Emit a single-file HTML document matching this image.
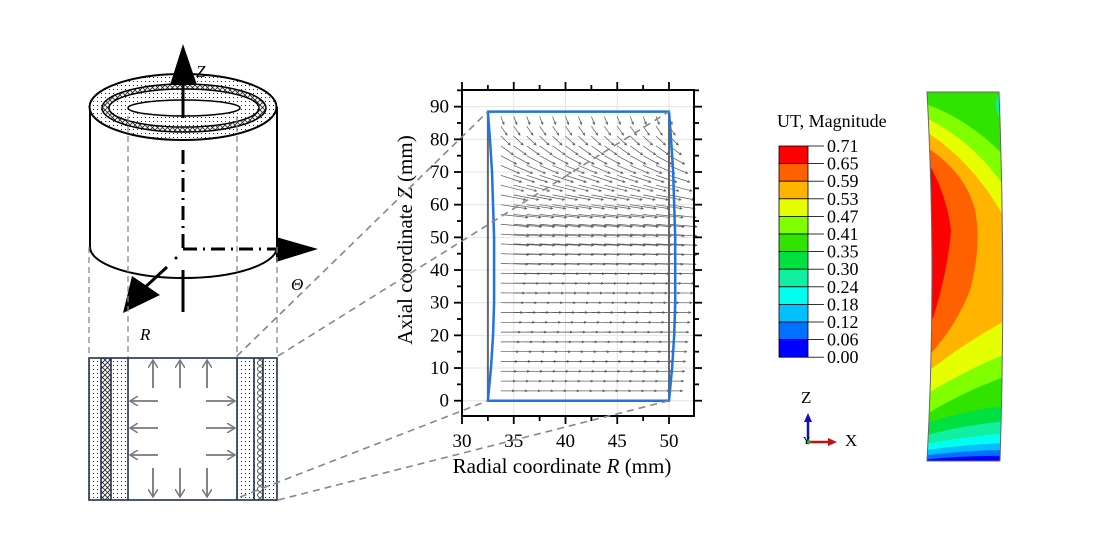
<!DOCTYPE html>
<html><head><meta charset="utf-8"><style>
html,body{margin:0;padding:0;background:#fff;}
svg{display:block;font-family:"Liberation Serif",serif;}
</style></head><body>
<svg id="fig" width="1100" height="560" viewBox="0 0 1100 560">
<defs>
<pattern id="dots" width="4" height="4" patternUnits="userSpaceOnUse"><rect width="4" height="4" fill="#fff"/><rect x="1" y="1" width="1" height="1" fill="#222"/></pattern>
<pattern id="hatch" width="5" height="5" patternUnits="userSpaceOnUse"><rect width="5" height="5" fill="#fff"/><path d="M0 0L5 5M5 0L0 5" stroke="#222" stroke-width="0.8"/></pattern>
<pattern id="circ" width="8" height="6" patternUnits="userSpaceOnUse"><rect width="8" height="6" fill="#fff"/><circle cx="4" cy="3" r="2.4" fill="none" stroke="#222" stroke-width="0.8"/></pattern>
<marker id="ah" markerWidth="10" markerHeight="10" refX="8" refY="5" orient="auto" markerUnits="userSpaceOnUse"><path d="M0 0L8 5L0 10" fill="none" stroke="#777" stroke-width="1.5"/></marker>
<clipPath id="bodyclip"><path d="M927 92 L999 92 Q1006 276 1000 461 L927 461 Q937 276 927 92Z"/></clipPath>
</defs>

<g>
<path d="M90 107 L90 247 A93.5 31 0 0 0 277 247 L277 107" fill="#fff" stroke="#000" stroke-width="2"/>
<ellipse cx="183" cy="107" rx="93.5" ry="33" fill="url(#dots)" stroke="#000" stroke-width="2"/>
<ellipse cx="184" cy="108" rx="82" ry="24" fill="url(#hatch)" stroke="#000" stroke-width="1.5"/>
<ellipse cx="184" cy="108" rx="75" ry="19" fill="url(#dots)" stroke="#000" stroke-width="1.5"/>
<ellipse cx="184" cy="108" rx="56" ry="8" fill="#fff" stroke="#000" stroke-width="1.5"/>
<line x1="183" y1="118" x2="183" y2="80" stroke="#000" stroke-width="3"/>
<polygon points="183,44 170,85 197,85" fill="#000"/>
<text x="196" y="77" font-size="17" font-style="italic">Z</text>
<line x1="183" y1="150" x2="183" y2="249" stroke="#000" stroke-width="3" stroke-dasharray="14,6,2,6"/>
<line x1="183" y1="249" x2="278" y2="249" stroke="#000" stroke-width="3" stroke-dasharray="14,6,2,6"/>
<polygon points="276,237 276,262 318,249" fill="#000"/>
<text x="291" y="290" font-size="17" font-style="italic">Θ</text>
<line x1="167" y1="267" x2="140" y2="292" stroke="#000" stroke-width="3"/>
<polygon points="123,313 132,276 160,295" fill="#000"/>
<circle cx="176" cy="258" r="1.5" fill="#000"/>
<line x1="183" y1="270" x2="183" y2="312" stroke="#000" stroke-width="3"/>
<text x="140" y="340" font-size="17" font-style="italic">R</text>
<g stroke="#888" stroke-width="1.3" stroke-dasharray="6,4" fill="none">
<line x1="89" y1="247" x2="89" y2="357"/><line x1="128" y1="116" x2="128" y2="357"/><line x1="237" y1="116" x2="237" y2="357"/><line x1="277" y1="247" x2="277" y2="357"/>
</g>
</g>

<g>
<rect x="89" y="358" width="12" height="142" fill="url(#dots)"/>
<rect x="101" y="358" width="10" height="142" fill="url(#hatch)"/>
<rect x="111" y="358" width="17" height="142" fill="url(#dots)"/>
<rect x="237" y="358" width="17" height="142" fill="url(#dots)"/>
<rect x="254" y="358" width="9" height="142" fill="url(#circ)"/>
<rect x="263" y="358" width="14" height="142" fill="url(#dots)"/>
<g stroke="#1f3050" stroke-width="1.6" fill="none">
<rect x="89" y="358" width="188" height="142"/>
<line x1="101" y1="358" x2="101" y2="500"/><line x1="111" y1="358" x2="111" y2="500"/><line x1="128" y1="358" x2="128" y2="500"/>
<line x1="237" y1="358" x2="237" y2="500"/><line x1="254" y1="358" x2="254" y2="500"/><line x1="263" y1="358" x2="263" y2="500"/>
</g>
<g stroke="#777" stroke-width="1.8" marker-end="url(#ah)">
<line x1="153" y1="388" x2="153" y2="360"/><line x1="180" y1="388" x2="180" y2="360"/><line x1="207" y1="388" x2="207" y2="360"/>
<line x1="153" y1="468" x2="153" y2="497"/><line x1="180" y1="468" x2="180" y2="497"/><line x1="207" y1="468" x2="207" y2="497"/>
<line x1="158" y1="401" x2="130" y2="401"/><line x1="158" y1="428" x2="130" y2="428"/><line x1="158" y1="455" x2="130" y2="455"/>
<line x1="206" y1="401" x2="235" y2="401"/><line x1="206" y1="428" x2="235" y2="428"/><line x1="206" y1="455" x2="235" y2="455"/>
</g>
</g>

<g id="chart"></g>

<g id="legend">
<text x="777" y="127" font-size="18">UT, Magnitude</text>
</g>

<g>
<text x="801" y="403" font-size="17">Z</text>
<line x1="808" y1="442" x2="808" y2="420" stroke="#1010c0" stroke-width="2.5"/>
<polygon points="808,413 804,422 812,422" fill="#1010c0"/>
<line x1="808" y1="442" x2="830" y2="442" stroke="#c01010" stroke-width="2.5"/>
<polygon points="837,442 828,438 828,446" fill="#c01010"/>
<circle cx="808" cy="442" r="2.5" fill="#20b040"/>
<text x="803" y="444" font-size="10">Y</text>
<text x="845" y="446" font-size="17">X</text>
</g>

<g clip-path="url(#bodyclip)">
<rect x="920" y="88" width="90" height="380" fill="#30e400"/>
<ellipse cx="1001" cy="105" rx="5" ry="12" fill="#10f090"/>
<path d="M920 102 Q970 118 1010 162 L1010 375 Q965 390 920 418Z" fill="#80ff00"/>
<path d="M920 115 Q975 140 1010 195 L1010 352 Q965 370 920 398Z" fill="#e6ff00"/>
<path d="M920 128 Q975 160 1010 228 L1010 318 Q960 345 920 378Z" fill="#ffb400"/>
<path d="M920 143 Q965 170 975 210 Q982 245 970 290 Q955 330 920 365Z" fill="#ff6000"/>
<path d="M920 150 Q945 185 951 230 Q948 270 933 318 L920 330Z" fill="#ff0000"/>
<path d="M920 425 Q965 410 1010 405 L1010 470 L920 470Z" fill="#00e040"/>
<path d="M920 437 Q965 424 1010 421 L1010 470 L920 470Z" fill="#10f0a0"/>
<path d="M920 445 Q965 436 1010 433 L1010 470 L920 470Z" fill="#00ffee"/>
<path d="M920 451 Q965 444 1010 443 L1010 470 L920 470Z" fill="#00c0ff"/>
<path d="M920 456 Q965 450 1010 450 L1010 470 L920 470Z" fill="#0070ff"/>
<path d="M920 460 Q965 455 1010 456 L1010 470 L920 470Z" fill="#0000ff"/>
</g>
<path d="M927 92 L999 92 Q1006 276 1000 461 L927 461 Q937 276 927 92Z" fill="none" stroke="#666" stroke-width="1"/>

<script>
const xTicks = [30, 35, 40, 45, 50];
const yTicks = [0, 10, 20, 30, 40, 50, 60, 70, 80, 90];
const originalR = [32.5, 50];
const originalZ = [0, 88.5];
const deformZ = [0, 10, 20, 30, 40, 50, 60, 70, 80, 88.5];
const deformLeftR = [32.5, 32.8, 33.0, 33.1, 33.1, 33.1, 33.0, 32.9, 32.7, 32.5];
const deformRightR = [50, 50.3, 50.5, 50.6, 50.6, 50.6, 50.5, 50.4, 50.2, 50];
const arrowRowZ = [3, 6, 9, 12, 15, 18, 21, 24, 27, 30, 33, 36, 39, 42, 45, 48, 51, 54, 57, 60, 63, 66, 69, 72, 75, 78, 81, 84, 87];
const arrowRowU = [1.3, 1.4, 1.5, 1.6, 1.7, 1.8, 1.9, 2.0, 2.1, 2.2, 2.3, 2.4, 2.5, 2.6, 2.7, 2.7, 2.7, 2.7, 2.6, 2.5, 2.4, 2.2, 2.0, 1.8, 1.5, 1.2, 0.9, 0.6, 0.3];
const arrowRowW = [0, 0, 0, 0, 0, 0, 0, 0, 0, -0.01, -0.02, -0.03, -0.05, -0.08, -0.1, -0.15, -0.2, -0.25, -0.3, -0.4, -0.5, -0.6, -0.7, -0.8, -0.85, -0.9, -0.9, -0.9, -0.8];
const arrowColR = [33.75, 35, 36.25, 37.5, 38.75, 40, 41.25, 42.5, 43.75, 45, 46.25, 47.5, 48.75, 50];
const legendValues = ["0.71","0.65","0.59","0.53","0.47","0.41","0.35","0.30","0.24","0.18","0.12","0.06","0.00"];
const legendColors = ["#ff0000","#ff6000","#ffb400","#e6ff00","#80ff00","#30e400","#00e040","#10f0a0","#00ffee","#00c0ff","#0070ff","#0000ff"];

const NS = "http://www.w3.org/2000/svg";
const X0 = 462, XPX = 10.35, Y0 = 400.7, YPX = 3.267;
const sx = v => X0 + (v - 30) * XPX;
const sy = v => Y0 - v * YPX;
const L = 462, R = 694, T = 90, B = 416;
function mk(tag, attrs, parent) {
  const e = document.createElementNS(NS, tag);
  for (const k in attrs) e.setAttribute(k, attrs[k]);
  parent.appendChild(e);
  return e;
}
function ttl(parent, parts) {
  parts.forEach(p => { const s = mk('tspan', p[1] ? {'font-style': 'italic'} : {}, parent); s.textContent = p[0]; });
}
const chart = document.getElementById('chart');
mk('rect', {x: L, y: T, width: R - L, height: B - T, fill: '#fff'}, chart);
xTicks.forEach(v => { const g = mk('line', {x1: sx(v), x2: sx(v), y1: T, y2: B, stroke: '#e4e4e4', 'stroke-width': 1}, chart);

 });
yTicks.forEach(v => { const g = mk('line', {x1: L, x2: R, y1: sy(v), y2: sy(v), stroke: '#e4e4e4', 'stroke-width': 1}, chart);

 });
const arrows = mk('g', {stroke: '#555', 'stroke-width': 0.7, fill: 'none'}, chart);


arrowRowZ.forEach((z, i) => {
  arrowColR.forEach(r => {
    const x1 = sx(r), y1 = sy(z), x2 = sx(r + arrowRowU[i]), y2 = sy(z + arrowRowW[i] * 3);
    const a = mk('line', {x1, y1, x2, y2}, arrows);
    
    
    const ang = Math.atan2(y2 - y1, x2 - x1), h = 2.5;
    mk('path', {d: `M${x2 - h * Math.cos(ang - 0.45)} ${y2 - h * Math.sin(ang - 0.45)}L${x2} ${y2}L${x2 - h * Math.cos(ang + 0.45)} ${y2 - h * Math.sin(ang + 0.45)}`}, arrows);
  });
});
const orig = mk('rect', {x: sx(originalR[0]), y: sy(originalZ[1]), width: sx(originalR[1]) - sx(originalR[0]), height: sy(originalZ[0]) - sy(originalZ[1]), fill: 'none', stroke: '#666', 'stroke-width': 2}, chart);


let d = '';
deformZ.forEach((z, i) => { d += (i ? 'L' : 'M') + sx(deformLeftR[i]) + ' ' + sy(z); });
for (let i = deformZ.length - 1; i >= 0; i--) d += 'L' + sx(deformRightR[i]) + ' ' + sy(deformZ[i]);
d += 'Z';
const def = mk('path', {d, fill: 'none', stroke: '#1f74e0', 'stroke-width': 2.5, 'stroke-linejoin': 'round'}, chart);


const frame = mk('rect', {x: L, y: T, width: R - L, height: B - T, fill: 'none', stroke: '#000', 'stroke-width': 2}, chart);


const tk = mk('g', {stroke: '#000', 'stroke-width': 1.8}, chart);


for (let v = 30; v <= 52.3; v += 2.5) {
  const len = (v % 5 === 0) ? 8 : 5, x = sx(v);
  mk('line', {x1: x, x2: x, y1: B, y2: B + len}, tk);
  mk('line', {x1: x, x2: x, y1: T, y2: T - len}, tk);
}
for (let v = -5; v <= 95; v += 5) {
  const y = sy(v); if (y < T - 0.5 || y > B + 0.5) continue;
  const len = (v % 10 === 0) ? 8 : 5;
  mk('line', {x1: L, x2: L - len, y1: y, y2: y}, tk);
  mk('line', {x1: R, x2: R + len, y1: y, y2: y}, tk);
}
xTicks.forEach(v => { const t = mk('text', {x: sx(v), y: 447, 'font-size': 19, 'text-anchor': 'middle'}, chart); t.textContent = v;

 });
yTicks.forEach(v => { const t = mk('text', {x: 449, y: sy(v) + 6, 'font-size': 19, 'text-anchor': 'end'}, chart); t.textContent = v;

 });
const xt = mk('text', {x: 562, y: 473, 'font-size': 21, 'text-anchor': 'middle'}, chart);
ttl(xt, [['Radial coordinate ', false], ['R', true], [' (mm)', false]]);


const yt = mk('text', {x: 0, y: 0, 'font-size': 21, 'text-anchor': 'middle', transform: 'translate(412,240) rotate(-90)'}, chart);
ttl(yt, [['Axial coordinate ', false], ['Z', true], [' (mm)', false]]);


const conn = mk('g', {stroke: '#888', 'stroke-width': 1.6, 'stroke-dasharray': '7,5'}, document.getElementById('fig'));


mk('line', {x1: 237, y1: 356, x2: sx(32.5), y2: sy(88.5)}, conn);
mk('line', {x1: 278, y1: 356, x2: sx(50), y2: sy(88.5)}, conn);
mk('line', {x1: 240, y1: 497, x2: sx(32.5), y2: sy(0)}, conn);
mk('line', {x1: 278, y1: 500, x2: sx(50), y2: sy(0)}, conn);
const lg = document.getElementById('legend');
const LX = 779, LY = 146, LH = 17.6;
legendColors.forEach((c, i) => {
  const r = mk('rect', {x: LX, y: LY + i * LH, width: 29, height: LH, fill: c, stroke: '#000', 'stroke-width': 0.8}, lg);
  
  
});
legendValues.forEach((v, i) => {
  mk('line', {x1: LX + 29, x2: LX + 45, y1: LY + i * LH, y2: LY + i * LH, stroke: '#000', 'stroke-width': 0.8}, lg);
  const t = mk('text', {x: 827, y: LY + i * LH + 6, 'font-size': 18}, lg);
  t.textContent = v;
  
  
});
</script>
</svg>
</body></html>
